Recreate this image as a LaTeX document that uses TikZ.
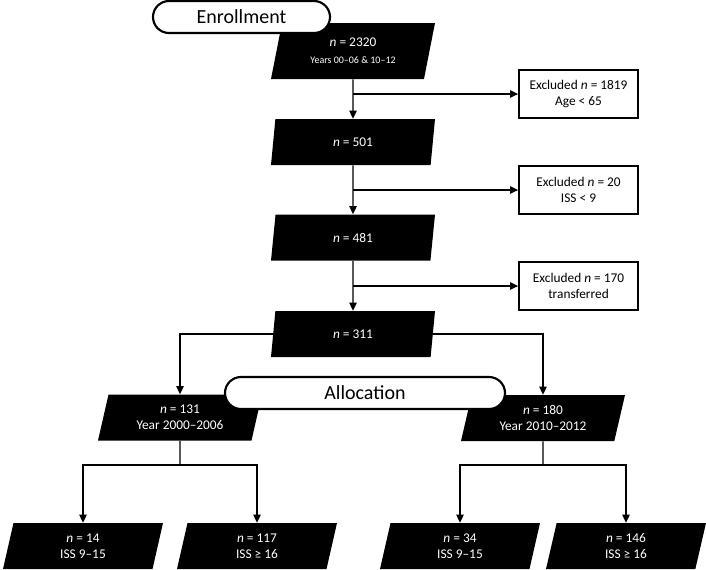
\documentclass[tikz,border=0pt]{standalone}
\usepackage{fontspec}
\setmainfont{Carlito}
\usetikzlibrary{arrows.meta,shapes.geometric,backgrounds}

\begin{document}
\begin{tikzpicture}[x=0.75pt, y=-0.75pt,
    term/.style={rectangle, draw, rounded corners=12pt, line width=1.6pt, fill=white, minimum width=132.75pt, minimum height=24pt, font=\fontsize{15}{18}\selectfont},
    stage/.style={trapezium, trapezium left angle=69, trapezium right angle=111, trapezium stretches body, fill=black, text=white, minimum width=123pt, minimum height=34.5pt, inner sep=1pt, align=center, font=\fontsize{10}{12}\selectfont},
    group/.style={stage, minimum width=120pt},
    excl/.style={rectangle, draw, line width=1.6pt, fill=white, minimum width=89pt, minimum height=36pt, align=center, font=\fontsize{10}{12}\selectfont},
    link/.style={line width=0.95pt},
    flow/.style={link, -{Triangle[length=6pt,width=5.5pt]}}
]
    \useasboundingbox (0,0) rectangle (706,569);

    % Nodes
    \node[stage, minimum height=42pt] (p2320) at (353,51) {\textit{n} = 2320\\[1pt]{\fontsize{7.5}{9}\selectfont Years 00--06 \& 10--12}};
    \node[stage] (p501) at (353,142) {\textit{n} = 501};
    \node[stage] (p481) at (353,237.5) {\textit{n} = 481};
    \node[stage] (p311) at (353,334) {\textit{n} = 311};
    \node[stage] (p131) at (180,417.5) {\textit{n} = 131\\Year 2000--2006};
    \node[stage] (p180) at (543,418) {\textit{n} = 180\\Year 2010--2012};
    \node[group] (p14) at (83,546) {\textit{n} = 14\\ISS 9--15};
    \node[group] (p117) at (257,546) {\textit{n} = 117\\ISS ≥ 16};
    \node[group] (p34) at (460,546) {\textit{n} = 34\\ISS 9--15};
    \node[group] (p146) at (626,546) {\textit{n} = 146\\ISS ≥ 16};

    \node[excl] (x1819) at (578.5,94) {Excluded \textit{n} = 1819\\Age < 65};
    \node[excl] (x20) at (578.5,190) {Excluded \textit{n} = 20\\ISS < 9};
    \node[excl] (x170) at (578.5,286) {Excluded \textit{n} = 170\\transferred};

    \node[term] (enroll) at (241.5,17) {Enrollment};
    \node[term, minimum width=210pt] (alloc) at (365,393) {Allocation};

    \coordinate (split1) at (180,465);
    \coordinate (split2) at (543,465);

    % Relations
    \begin{scope}[on background layer]
    \draw[flow] (p2320) -- (p501);
    \draw[flow] (p501) -- (p481);
    \draw[flow] (p481) -- (p311);
    \draw[flow] (p2320 |- x1819) -- (x1819);
    \draw[flow] (p501 |- x20) -- (x20);
    \draw[flow] (p481 |- x170) -- (x170);

    \draw[flow] (p311.center) -| (p131);
    \draw[flow] (p311.center) -| (p180);

    \draw[link] (p131) -- (split1);
    \draw[flow] (split1) -| (p14);
    \draw[flow] (split1) -| (p117);
    \draw[link] (p180) -- (split2);
    \draw[flow] (split2) -| (p34);
    \draw[flow] (split2) -| (p146);
    \end{scope}
\end{tikzpicture}
\end{document}
